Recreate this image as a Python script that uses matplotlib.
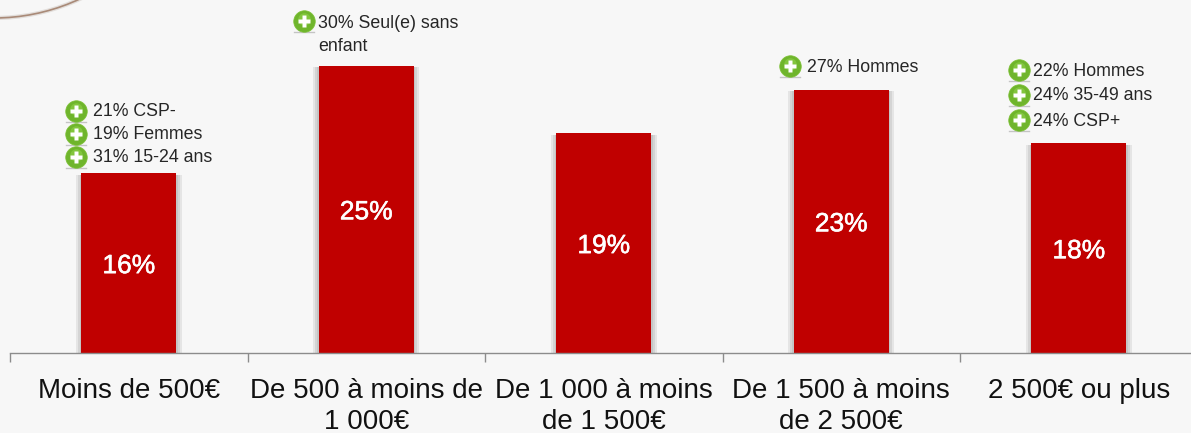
import matplotlib
matplotlib.use("Agg")
import matplotlib.pyplot as plt
import matplotlib.patheffects as pe
from matplotlib.patches import Circle

plt.rcParams["font.family"] = ["Liberation Sans", "DejaVu Sans"]

categories = ["Moins de 500€", "De 500 à moins de\n1 000€", "De 1 000 à moins\nde 1 500€",
              "De 1 500 à moins\nde 2 500€", "2 500€ ou plus"]
values = [15.7, 25.1, 19.2, 23.0, 18.3]
value_labels = ["16%", "25%", "19%", "23%", "18%"]
notes = [
    ["21% CSP-", "19% Femmes", "31% 15-24 ans"],
    ["30% Seul(e) sans\nenfant"],
    [],
    ["27% Hommes"],
    ["22% Hommes", "24% 35-49 ans", "24% CSP+"],
]

BG = "#f7f7f7"
RED = "#c00000"
W, H = 1191, 433

# placement des notes, en pixels : dx icone / dx texte depuis le centre de barre, y depuis le haut
note_icon_dx = [-53, -62, 0, -51, -60]
note_text_dx = [-36, -48, 0, -34, -46]
note_y = [[111, 134, 157], [21], [], [66], [70, 95, 120]]

fig = plt.figure(figsize=(W / 100, H / 100), dpi=100, facecolor=BG)
ax = fig.add_axes([10 / W, (H - 353) / H, 1187.5 / W, 353 / H])
ax.set_facecolor("none")

x = list(range(len(categories)))
bars = ax.bar(x, values, width=0.4, color=RED, zorder=3)
for b in bars:
    # ombre douce a gauche et a droite des barres
    shadow = [pe.SimplePatchShadow(offset=(dx, -1), shadow_rgbFace="black", alpha=0.07)
              for dx in (-4, 4, -2.5, 2.5, -1.2, 1.2)]
    b.set_path_effects(shadow + [pe.Normal()])

ax.set_xlim(-0.5, 4.5)
ax.set_ylim(0, 353 / 11.45)
ax.set_yticks([])
for s in ["top", "left", "right"]:
    ax.spines[s].set_visible(False)
ax.spines["bottom"].set_color("#8c8c8c")
ax.spines["bottom"].set_linewidth(1.0)
ax.spines["bottom"].set_zorder(4)

# graduations entre les categories
ax.set_xticks([i - 0.5 for i in range(len(categories) + 1)])
ax.set_xticklabels([])
ax.tick_params(axis="x", length=6.5, width=1.0, color="#8c8c8c")

for i, cat in enumerate(categories):
    ax.annotate(cat, xy=(i, 0), xytext=(0, -25), textcoords="offset pixels", ha="center", va="top",
                fontsize=20, color="#111111", linespacing=1.26, annotation_clip=False)

for i, v in enumerate(values):
    t = ax.annotate(value_labels[i], xy=(i, v / 2), xytext=(0, -3), textcoords="offset pixels",
                    ha="center", va="center", fontsize=19, color="white", zorder=5)
    t.set_path_effects([pe.withStroke(linewidth=0.4, foreground="white")])

# petites icones + et textes au-dessus des barres
for i, lines in enumerate(notes):
    cx = ax.transData.transform((i, 0))[0]
    for txt, py in zip(lines, note_y[i]):
        ix = cx + note_icon_dx[i]
        tx = (cx + note_text_dx[i]) / W
        # ombre sous l'icone
        fig.add_artist(plt.Line2D([(ix - 10) / W, (ix + 10) / W], [1 - (py + 11) / H] * 2,
                                  color="#c4c4c4", lw=1, zorder=6))
        fig.add_artist(plt.Line2D([ix / W], [1 - py / H], marker="o", ms=15.5, mfc="#6fb52c",
                                  mec="#7cc034", mew=0.5, zorder=7))
        fig.add_artist(plt.Line2D([ix / W], [1 - (py - 2) / H], marker="o", ms=9, mfc="#8fd14a",
                                  mec="none", alpha=0.6, zorder=7))
        fig.add_artist(plt.Line2D([ix / W], [1 - py / H], marker="P", ms=9, mfc="white",
                                  mec="none", zorder=8))
        if "\n" in txt:
            fig.text(tx, 1 - (py - 6) / H, txt, ha="left", va="top", fontsize=12.8,
                     color="#262626", linespacing=1.48, zorder=8)
        else:
            fig.text(tx, 1 - (py + 1) / H, txt, ha="left", va="center", fontsize=12.8,
                     color="#262626", zorder=8)

# arc decoratif en haut a gauche
overlay = fig.add_axes([0, 0, 1, 1], facecolor="none")
overlay.set_xlim(0, W)
overlay.set_ylim(H, 0)
overlay.axis("off")
for lw, col in [(3.0, "#e2dedb"), (1.2, "#a98a78")]:
    overlay.add_patch(Circle((-6, -185), 203, fill=False, ec=col, lw=lw))

fig.savefig("out.png", dpi=100, facecolor=BG)
